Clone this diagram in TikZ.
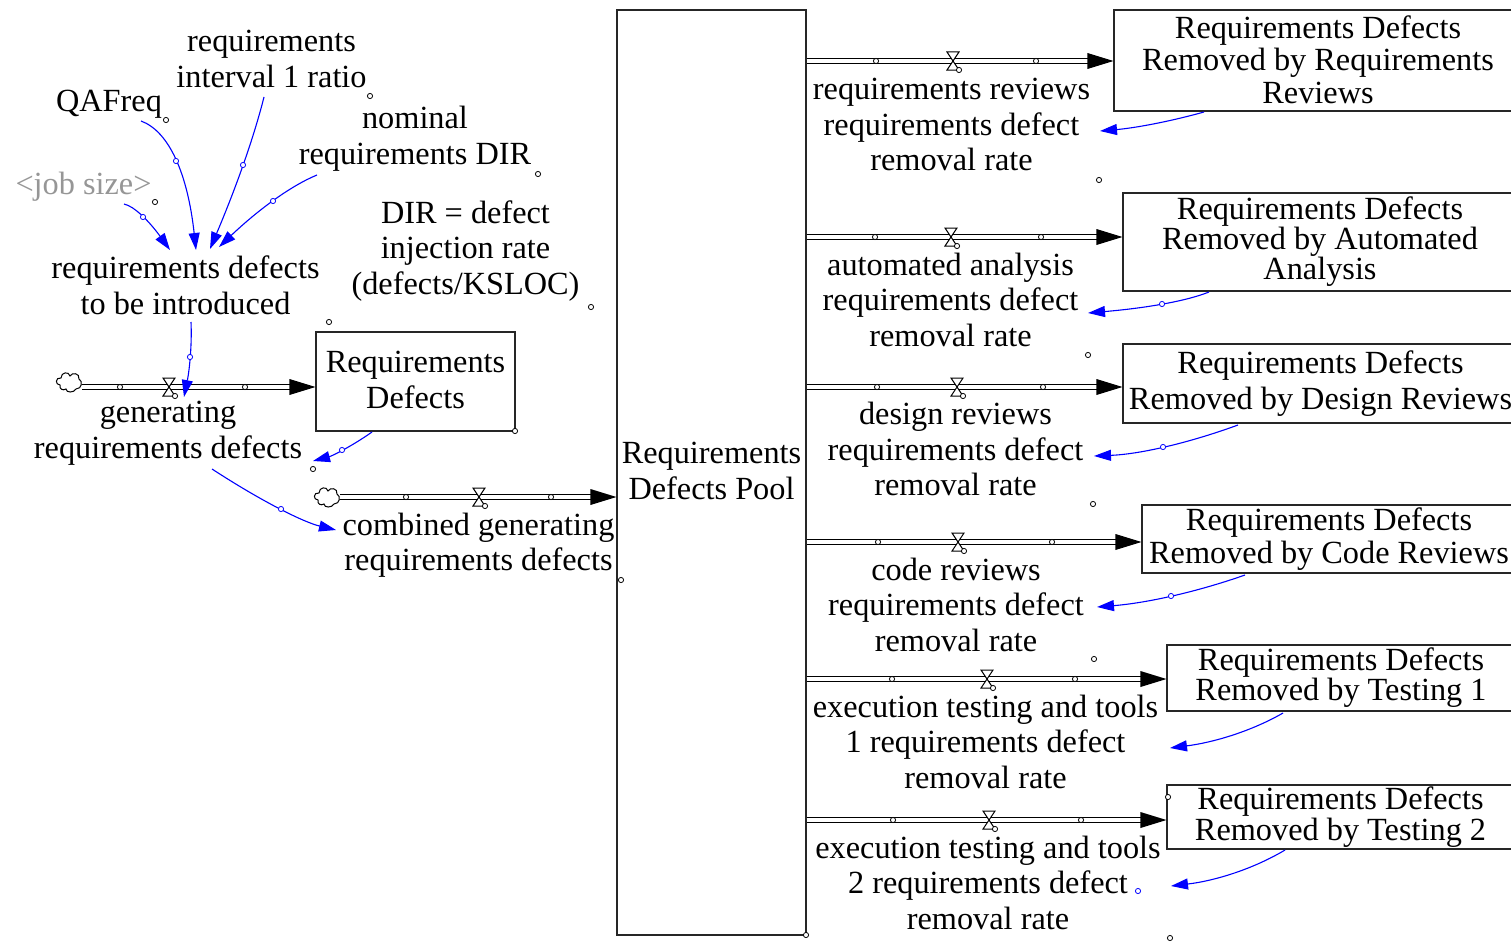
\documentclass[tikz,border=0pt]{standalone}
\usepackage{fontspec}
\setmainfont{Liberation Serif}
\usetikzlibrary{arrows.meta}
\definecolor{jobgray}{RGB}{150,150,150}
\definecolor{inflblue}{RGB}{0,0,255}
\newcommand\lowstrut{\vrule height\dimexpr0.7\baselineskip+8pt\relax depth\dimexpr0.3\baselineskip-8pt\relax width0pt\relax}
\begin{document}
\begin{tikzpicture}[x=1pt,y=-1pt,
  lbl/.style={align=center,inner sep=1pt,font=\fontsize{32.3}{35.5}\selectfont,execute at begin node=\lowstrut,execute at end node=\lowstrut},
  bx/.style={draw=black!85,line width=1.1pt,align=center,inner sep=0pt,execute at begin node=\lowstrut,execute at end node=\lowstrut},
  pipe/.style={draw=black,line width=1.2pt,double=white,double distance=3.2pt,shorten >=24pt},
  hd/.style={draw=black,fill=white,line width=0.8pt},
  hdb/.style={draw=inflblue,fill=white,line width=0.8pt},
  infl/.style={draw=inflblue,line width=1.1pt,-{Triangle[length=17pt,width=11pt]}},
  valve/.pic={\draw[line width=1pt,fill=white] (-6,-9) -- (6,-9) -- (-6,9) -- (6,9) -- cycle;
              \draw[hd] (6,9) circle[radius=2.6];},
  srccloud/.pic={\draw[line width=1pt,fill=white] (-9,3) .. controls (-14,3) and (-14,-5) .. (-8,-4)
      .. controls (-8,-10) and (0,-11) .. (1,-6)
      .. controls (3,-10) and (11,-9) .. (10,-3)
      .. controls (14,-1) and (13,7) .. (7,7)
      .. controls (5,11) and (-3,11) .. (-3,7)
      .. controls (-6,9) and (-10,7) .. (-9,3) -- cycle;},
]
\useasboundingbox (0,0) rectangle (1511,942);
\clip (0,0) rectangle (1511,942);

% ---------- auxiliary variables ----------
\node[lbl] (interval) at (271.5,60) {requirements\\interval 1 ratio};
\node[lbl] (qafreq) at (109,99) {QAFreq};
\node[lbl] (nominal) at (415,138.5) {nominal\\requirements DIR};
\node[lbl,text=jobgray] (jobsize) at (83.5,182) {<job size>};
\node[lbl] (dirnote) at (465.5,251) {DIR = defect\\injection rate\\(defects/KSLOC)};
\node[lbl] (rdi) at (185.5,286.5) {requirements defects\\to be introduced};
\node[lbl] (gen) at (168,433) {generating\\requirements defects};
\node[lbl] (comb) at (478.5,545) {combined generating\\requirements defects};

% ---------- stocks ----------
\node[bx,minimum width=199pt,minimum height=99pt,font=\fontsize{32.3}{36}\selectfont] (stock) at (415.5,381.5) {Requirements\\Defects};
\node[bx,minimum width=189pt,minimum height=925pt,font=\fontsize{32.3}{36}\selectfont] (pool) at (711.5,472.5) {Requirements\\Defects Pool};
\node[bx,minimum width=408pt,minimum height=101pt,font=\fontsize{32.3}{32.5}\selectfont] (box1) at (1318,60.5) {Requirements Defects\\Removed by Requirements\\Reviews};
\node[bx,minimum width=394pt,minimum height=98pt,font=\fontsize{32.3}{30}\selectfont] (box2) at (1320,242) {Requirements Defects\\Removed by Automated\\Analysis};
\node[bx,minimum width=395pt,minimum height=79pt,font=\fontsize{32.3}{36}\selectfont] (box3) at (1320.5,383.5) {Requirements Defects\\Removed by Design Reviews};
\node[bx,minimum width=374pt,minimum height=68pt,font=\fontsize{32.3}{33}\selectfont] (box4) at (1329,539) {Requirements Defects\\Removed by Code Reviews};
\node[bx,minimum width=348pt,minimum height=66pt,font=\fontsize{32.3}{30}\selectfont] (box5) at (1341,678) {Requirements Defects\\Removed by Testing 1};
\node[bx,minimum width=347pt,minimum height=64pt,font=\fontsize{32.3}{28}\selectfont] (box6) at (1340.5,817) {Requirements Defects\\Removed by Testing 2};

% ---------- rate labels ----------
\node[lbl] (lab1) at (951.5,126) {requirements reviews\\requirements defect\\removal rate};
\node[lbl] (lab2) at (950.5,301) {automated analysis\\requirements defect\\removal rate};
\node[lbl] (lab3) at (955.5,450.5) {design reviews\\requirements defect\\removal rate};
\node[lbl] (lab4) at (956,606) {code reviews\\requirements defect\\removal rate};
\node[lbl] (lab5) at (985.5,743) {execution testing and tools\\1 requirements defect\\removal rate};
\node[lbl] (lab6) at (988,884) {execution testing and tools\\2 requirements defect\\removal rate};

% ---------- flows ----------
\coordinate (src1) at (82,387);
\coordinate (src2) at (340,497);
\coordinate (y1) at (0,61);
\coordinate (y2) at (0,237);
\coordinate (y3) at (0,387);
\coordinate (y4) at (0,542);
\coordinate (y5) at (0,679);
\coordinate (y6) at (0,820);

\pic at (69,382) {srccloud};
\pic at (327,497) {srccloud};

\draw[pipe] (src1) -- (stock.west |- src1);
\fill (stock.west |- src1) -- ++(-26,-8) -- ++(0,16) -- cycle;
\draw[pipe] (src2) -- (pool.west |- src2);
\fill (pool.west |- src2) -- ++(-26,-8) -- ++(0,16) -- cycle;
\foreach \b/\y in {box1/y1,box2/y2,box3/y3,box4/y4,box5/y5,box6/y6}{
  \draw[pipe] (pool.east |- \y) -- (\b.west |- \y);
  \fill (\b.west |- \y) -- ++(-26,-8) -- ++(0,16) -- cycle;
}

% pipe handles
\foreach \p in {(120,387),(245,387),(406,497),(551,497),
  (876,61),(1036,61),(875,237),(1041,237),(877,387),(1043,387),
  (878,542),(1052,542),(892,679),(1075,679),(893,820),(1081,820)}
  \draw[hd] \p circle[radius=2.6];

% valves
\coordinate (v1) at (169,387);
\pic at (v1) {valve};
\pic at (479,497) {valve};
\pic at (953,61) {valve};
\pic at (951,237) {valve};
\pic at (957,387) {valve};
\pic at (958,542) {valve};
\pic at (987,679) {valve};
\pic at (989,820) {valve};

% ---------- influence links ----------
\draw[infl] ([shift={(32,22)}]qafreq.center) .. controls (169.3,131.3) and (187.7,174.3) .. ([shift={(10.5,-36.5)}]rdi.center);
\draw[infl] ([shift={(-7.5,37)}]interval.center) .. controls (254,137) and (236,187.7) .. ([shift={(24.5,-37.5)}]rdi.center);
\draw[infl] ([shift={(-98,36.5)}]nominal.center) .. controls (291,185.7) and (258.3,209.7) .. ([shift={(33.5,-39.5)}]rdi.center);
\draw[infl] ([shift={(40.5,22)}]jobsize.center) .. controls (134,206) and (149.3,221.3) .. ([shift={(-15.5,-36.5)}]rdi.center);
\draw[infl] ([shift={(5.5,35.5)}]rdi.center) .. controls (192,343.7) and (189.7,368.7) .. ([shift={(15,10)}]v1);
\draw[infl] ([shift={(-43.5,50.5)}]stock.center) .. controls (351.7,446.3) and (332,456) .. ([shift={(145,28)}]gen.center);
\draw[infl] ([shift={(44,36)}]gen.center) .. controls (262.7,502) and (304,522.3) .. ([shift={(-142.5,-15)}]comb.center);

\draw[infl] ([shift={(-114,51.5)}]box1.center) .. controls (1169.3,121.7) and (1134.7,128) .. ([shift={(148.5,5)}]lab1.center);
\draw[infl] ([shift={(-111,50)}]box2.center) .. controls (1186.7,301) and (1146.3,308) .. ([shift={(137.5,12)}]lab2.center);
\draw[infl] ([shift={(-82.5,41.5)}]box3.center) .. controls (1186,444) and (1138,454.3) .. ([shift={(138.5,5.5)}]lab3.center);
\draw[infl] ([shift={(-84,36)}]box4.center) .. controls (1195.7,592.3) and (1146.3,603) .. ([shift={(141,1)}]lab4.center);
\draw[infl] ([shift={(-58,35)}]box5.center) .. controls (1252.3,730.7) and (1214.7,742.3) .. ([shift={(184.5,5)}]lab5.center);
\draw[infl] ([shift={(-55.5,33)}]box6.center) .. controls (1253.7,868.7) and (1215.7,880.7) .. ([shift={(183,2)}]lab6.center);

% blue handles on links
\foreach \p in {(176,161),(243,165),(273,201),(143,217),(190,357),(342,450),(281,509),
  (1162,304),(1163,447),(1171,596),(1138,891)}
  \draw[hdb] \p circle[radius=2.6];

% other black handles
\foreach \p in {(370,96),(538,174),(155,202),(591,307),(329,322),(166,120),(515,431),(313,469),
  (621,580),(806,935),(1099,180),(1088,355),(1093,504),(1094,659),(1168,797),(1170,938)}
  \draw[hd] \p circle[radius=2.6];
\end{tikzpicture}
\end{document}
